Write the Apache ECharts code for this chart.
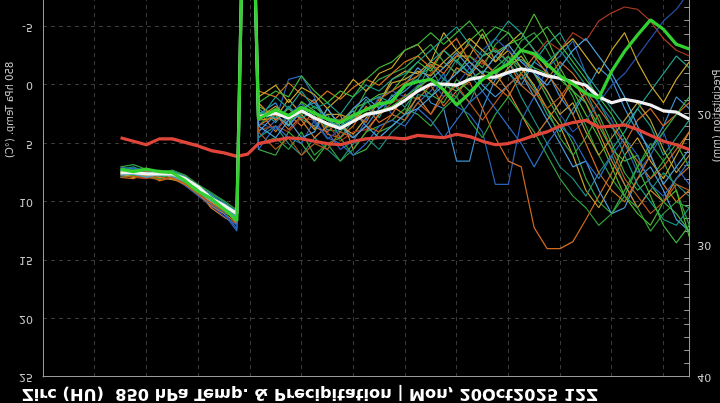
<!DOCTYPE html>
<html><head><meta charset="utf-8">
<script src="https://cdn.jsdelivr.net/npm/echarts@6/dist/echarts.min.js"></script>
<style>
html,body{margin:0;padding:0;background:#000;overflow:hidden;width:720px;height:403px;}
#wrap{position:absolute;left:0;top:0;width:720px;height:403px;overflow:hidden;transform:scaleY(-1);transform-origin:50% 50%;}
#chart{position:absolute;left:0;top:0;width:720px;height:440px;}
</style></head><body><div id="wrap"><div id="chart"></div></div>
<script>
const titleText = 'Zirc (HU)  850 hPa Temp. & Precipitation | Mon, 20Oct2025 12Z';
const tempName = '850 hPa Temp. (°C)';
const precName = 'Precipitation (mm)';
const hours = [36,42,48,54,60,66,72,78,84,90,95,100,108,114,120,126,132,138,144,150,156,162,168,174,180,186,192,198,204,210,216,222,228,234,240,246,252,258,264,270,276,282,288,294,300];

const redLine = [4.5,4.8,5.1,4.6,4.6,4.9,5.2,5.6,5.8,6.1,5.9,
  5.0,4.7,4.5,4.6,4.8,5.0,5.1,4.8,4.6,4.5,4.5,4.6,
  4.3,4.4,4.5,4.2,4.4,4.8,5.1,5.0,4.7,4.3,4.0,3.5,3.2,3.0,3.6,3.5,3.4,3.8,4.3,4.8,5.1,5.5];
const whiteLine = [7.5,7.5,7.6,7.6,7.6,8.0,8.7,9.7,10.3,11.0,-34,
  2.7,2.4,2.8,2.2,2.8,3.3,3.7,3.1,2.5,2.3,2.0,1.3,
  0.5,-0.1,-0.1,0.0,-0.5,-0.7,-0.7,-1.1,-1.4,-1.2,-0.8,-0.6,-0.3,0.0,1.0,1.5,1.2,1.4,1.7,2.2,2.3,2.9];
const greenLine = [7.2,7.4,7.2,7.4,7.5,8.2,9.1,9.7,10.6,11.6,-35,
  2.9,2.1,2.6,1.9,2.4,2.9,3.2,2.6,2.1,1.6,1.4,0.0,
  -0.3,-0.5,0.4,1.7,0.7,-0.5,-1.2,-1.8,-3.0,-2.7,-1.8,-0.8,-0.1,0.7,1.1,-1.2,-2.9,-4.3,-5.6,-4.8,-3.5,-3.1];

const m1 = [7.3,7.6,7.4,7.8,7.7,8.2,9.0,10.0,10.6,11.4,-36,
  3.5,2.0,3.0,1.5,2.6,3.8,4.0,2.7,2.0,1.8,1.5,0.2,
  -0.8,-1.5,0.5,1.0,-1.0,-2.5,-3.0,-2.0,-3.8,-4.5,-3.0,-1.0,1.0,3.5,6.0,8.0,9.5,7.0,5.0,6.5,9.0,12.0];
const m2 = [7.8,7.4,7.7,7.5,7.9,8.4,9.2,9.5,10.2,10.9,-34,
  2.0,3.2,1.8,2.9,3.5,2.5,4.5,3.0,1.2,2.8,0.8,1.9,
  0.3,-1.8,-0.5,-2.2,-1.0,0.5,-0.8,-2.4,-1.5,0.2,2.5,4.0,2.0,0.5,3.0,5.5,4.0,2.0,3.5,6.0,4.5,3.0];
const m3 = [7.0,7.2,7.6,7.4,7.8,8.5,9.4,10.4,11.0,12.5,-33,
  4.5,3.0,-0.5,-0.8,1.0,4.0,5.5,4.8,3.0,1.0,2.5,3.0,
  1.5,0.5,-1.0,1.8,2.5,4.0,8.5,8.5,3.0,1.0,-1.5,-2.5,-3.8,-1.0,1.5,3.0,5.0,7.5,6.0,4.0,7.0,8.5];
const m4 = [7.6,7.3,7.9,7.7,7.5,7.9,8.8,9.6,10.1,10.8,-35,
  2.5,1.5,3.5,2.0,1.5,3.0,3.0,2.2,3.5,2.0,1.2,0.5,
  -0.5,1.5,2.0,6.5,6.5,2.0,-0.5,-1.0,0.0,-2.0,-1.2,1.0,2.5,0.5,-1.5,-0.5,2.0,4.0,5.5,3.5,1.0,2.0];
const m5 = [7.9,8.0,7.5,8.2,7.9,8.6,9.4,10.2,10.8,11.5,-32,
  2.2,4.0,2.5,3.5,2.2,4.2,4.5,3.5,1.8,3.2,2.5,0.8,
  1.2,0.0,1.8,0.5,-0.3,2.0,4.5,6.5,7.0,12.2,14.0,14.0,13.4,11.5,9.5,7.5,5.0,3.0,2.0,3.5,2.5,1.5];
const m6 = [7.4,7.7,7.3,7.9,8.1,8.3,9.0,9.8,10.4,11.2,-34,
  3.0,2.8,1.2,2.5,3.8,2.0,3.5,4.2,2.8,1.5,-0.5,-1.2,
  -1.0,-2.0,-1.5,-2.5,-2.5,-4.4,-2.0,-3.0,-1.5,0.0,2.0,3.5,6.0,9.0,10.5,8.5,6.0,4.5,6.5,8.0,6.0,4.0];
const m7 = [7.7,7.9,8.0,7.6,8.0,8.4,9.2,10.1,10.7,11.3,-31,
  3.8,3.5,4.0,2.8,3.0,3.3,4.8,4.0,3.8,2.5,1.5,1.0,
  0.5,-1.0,-2.0,-1.0,-2.5,-1.8,-3.2,-2.0,-3.0,-2.5,-3.8,-3.0,-4.5,-3.8,-5.5,-6.2,-6.7,-6.5,-5.5,-4.0,-3.0,-2.5];
const m8 = [7.5,7.5,7.7,7.6,7.7,8.1,8.9,9.8,10.5,11.8,-36,
  1.8,2.6,3.4,1.4,2.2,3.6,3.2,2.0,1.5,0.8,0.5,-0.8,
  -2.0,-1.2,-3.0,-2.0,-3.8,-4.8,-2.8,-3.5,-4.0,-6.1,-4.0,-1.5,0.5,2.5,4.5,7.0,9.5,11.0,12.0,10.0,9.0,13.0];
const m9 = [7.2,7.0,7.5,7.3,7.4,8.0,8.6,9.3,10.0,10.9,-34,
  4.5,3.5,5.0,6.0,4.5,5.5,6.5,5.0,4.5,5.5,4.0,3.0,
  0.8,1.0,-0.5,0.2,1.5,-1.0,-2.5,-1.5,1.0,3.0,5.0,7.0,8.0,9.5,7.5,6.0,8.5,10.5,9.0,7.5,8.5,9.5];
const m10 = [7.6,7.8,7.9,7.4,7.6,8.1,9.1,10.5,11.3,11.9,-33,
  1.5,3.0,2.0,3.0,4.5,3.5,2.5,5.5,4.0,2.5,1.8,2.5,
  1.0,2.5,0.5,-1.5,-0.8,-2.2,-1.0,0.5,2.5,4.5,3.0,1.5,-0.5,1.5,4.0,6.5,8.5,10.5,9.0,10.0,8.0,7.0];
const m11 = [7.3,7.4,7.6,7.8,7.8,8.3,8.9,9.9,10.4,11.1,-35,
  2.5,2.2,3.0,2.5,1.8,2.8,3.0,2.5,0.5,-0.5,-1.0,-1.5,
  -2.5,-3.5,-2.0,-1.0,-2.5,-1.5,-3.5,-4.5,-3.0,-1.0,1.0,3.0,5.0,8.0,10.0,11.0,9.0,7.0,5.5,4.0,2.5,1.0];
const m12 = [7.8,7.6,7.4,7.7,7.9,8.6,9.5,10.3,11.2,12.0,-32,
  3.2,3.8,2.5,1.6,3.2,4.6,3.8,2.8,3.0,1.0,0.5,1.0,
  0.0,-0.5,1.0,0.0,-1.5,-3.0,-4.0,-3.0,-2.0,-1.5,0.5,2.5,4.0,3.0,1.5,0.0,-1.0,-2.5,-4.0,-5.5,-6.5,-8.0];
const m13 = [7.5,7.3,7.8,7.5,7.7,8.0,8.8,9.6,10.3,10.9,-34,
  2.8,1.8,2.8,2.0,3.0,2.5,2.5,3.0,2.0,1.5,-0.2,-0.5,
  -1.2,-0.8,-2.0,-3.0,-2.0,-1.0,0.0,-1.5,-2.5,-1.0,0.5,2.5,1.5,4.0,6.0,4.5,3.0,1.5,3.0,5.5,7.5,6.0];
const m14 = [7.1,7.5,7.2,7.6,7.3,7.8,8.7,9.4,10.2,11.6,-35,
  4.0,2.5,3.5,2.2,1.2,3.0,3.6,2.0,1.0,2.0,1.0,0.0,
  -1.5,-0.5,-1.5,-2.8,-1.5,0.0,1.0,0.0,-1.0,1.0,3.0,5.0,7.0,6.5,9.0,11.0,10.5,8.0,7.0,9.0,11.5,12.5];
const m15 = [7.9,7.7,7.8,8.0,7.6,8.2,9.3,10.0,10.9,11.4,-33,
  5.5,6.0,4.0,5.0,6.5,5.0,4.5,6.0,5.5,4.0,3.5,2.5,
  0.0,0.8,1.5,-0.5,0.5,-0.5,-1.5,-2.5,-1.0,0.5,2.0,4.5,6.0,4.5,2.5,5.0,7.5,9.0,8.0,6.5,5.0,7.0];
const m16 = [7.4,7.6,7.4,7.3,7.8,8.4,9.0,9.9,10.6,11.2,-34,
  3.5,2.5,3.8,2.6,3.6,4.0,3.0,2.5,3.2,1.2,0.5,-0.2,
  -0.8,-1.8,-1.0,-2.5,-3.5,-2.0,-1.0,-2.0,0.0,1.0,-0.5,-2.0,-1.0,0.5,2.0,3.5,5.0,6.5,8.0,7.0,5.5,4.0];
const m17 = [7.6,7.3,7.5,7.8,7.6,8.1,9.0,9.7,10.5,11.3,-35,
  2.3,2.8,2.0,2.8,2.2,3.0,3.5,2.8,1.5,1.0,1.5,0.0,
  -0.5,-2.0,-3.0,-2.0,-1.0,-2.5,-3.0,-2.0,-0.5,-2.0,-3.5,-4.5,-2.5,-1.0,0.5,2.0,3.5,2.0,0.5,-1.0,-2.5,-1.5];
const m18 = [7.5,7.4,7.6,7.7,7.7,8.2,8.8,9.8,10.4,11.1,-36,
  2.6,2.4,2.9,2.3,2.7,3.2,3.6,3.0,2.4,2.2,1.8,1.0,
  0.2,-0.6,0.0,0.5,-0.5,-1.2,-1.0,-1.8,-2.2,-1.5,-1.0,-0.5,0.5,1.5,3.5,5.5,6.5,6.0,8.5,10.0,11.0,12.5];
const m19 = [7.7,7.5,7.8,7.9,8.0,8.5,9.3,10.3,11.0,11.8,-33,
  0.5,1.0,-0.2,0.8,1.5,0.5,1.2,0.2,-0.5,0.0,-1.0,-2.0,
  -2.5,-1.5,-3.0,-4.0,-2.0,-1.0,0.0,1.0,-1.0,-2.5,-1.0,0.5,2.5,5.0,7.5,9.0,10.0,8.0,6.0,8.5,10.0,9.0];
const m20 = [7.0,6.8,7.2,7.4,7.3,7.7,8.5,9.2,9.9,10.7,-35,
  5.0,4.5,5.5,4.0,6.0,5.0,6.5,5.5,4.0,3.5,3.0,2.0,
  2.5,3.5,2.0,1.0,3.0,4.5,2.5,1.0,2.5,4.0,6.0,8.0,9.5,10.5,12.0,11.0,9.5,10.5,12.5,11.0,10.0,10.5];
const m21 = [7.6,7.9,7.6,7.5,7.9,8.3,9.1,10.0,10.7,11.5,-34,
  1.0,0.0,1.5,0.2,0.8,2.0,1.0,-0.5,0.5,-1.0,-1.5,-3.0,
  -3.5,-2.0,-4.5,-3.0,-4.0,-3.0,-2.0,-3.5,-4.5,-3.0,-1.5,-3.0,-4.0,-2.5,-1.0,-3.0,-4.5,-2.0,0.0,1.5,-0.5,-2.0];
const m22 = [7.3,7.1,7.3,7.5,7.6,8.2,9.2,10.2,10.9,12.3,-33,
  5.5,3.5,4.5,5.0,3.0,4.5,5.0,6.0,5.0,3.5,3.0,3.5,
  2.0,3.0,4.5,3.0,1.5,0.5,2.0,3.5,5.0,7.0,5.0,3.5,4.5,6.5,8.0,6.0,4.5,6.0,8.5,9.5,8.0,6.5];
const m23 = [7.4,7.6,7.5,7.6,7.4,7.9,8.6,9.5,10.2,11.0,-34,
  3.0,1.0,2.0,0.5,2.0,1.5,2.5,1.0,0.0,0.5,-0.5,-1.0,
  -2.0,-3.0,-4.0,-5.0,-3.5,-2.5,-4.0,-5.5,-4.5,-3.0,-2.0,-3.0,-1.5,0.0,1.5,3.5,6.0,8.5,10.0,11.5,12.0,10.5];
const m24 = [7.9,7.8,7.9,8.1,7.9,8.4,9.3,10.1,10.8,11.6,-32,
  4.0,5.5,4.5,6.0,5.0,5.5,4.0,4.5,3.5,4.0,2.5,3.0,
  1.5,2.5,1.0,0.0,1.5,3.0,1.5,0.0,-1.0,0.5,2.0,1.0,-0.5,1.0,3.0,5.5,8.0,9.5,11.0,10.0,8.5,9.0];
const m25 = [7.2,7.3,7.1,7.5,7.5,8.0,8.7,9.6,10.3,11.2,-35,
  1.5,0.5,1.0,-0.8,0.5,1.5,0.5,1.0,-0.5,-1.5,-2.0,-3.0,
  -3.5,-4.5,-3.5,-4.5,-5.5,-4.0,-5.0,-4.5,-3.0,-4.0,-5.0,-3.5,-2.0,-0.5,1.0,2.5,4.5,7.0,9.5,12.0,13.5,12.0];
const m26 = [7.7,7.6,7.9,7.6,7.8,8.3,9.1,9.9,10.6,11.3,-34,
  3.5,4.5,3.0,4.5,4.0,2.0,3.5,4.5,3.5,4.5,3.5,2.5,
  2.0,1.0,0.0,-1.0,-2.0,-1.0,-2.5,-3.5,-2.0,-1.0,0.0,-1.5,-3.0,-4.0,-2.5,-1.0,1.0,3.5,6.0,8.5,7.0,5.5];

const members = [m1,m2,m3,m4,m5,m6,m7,m8,m9,m10,m11,m12,m13,m14,m15,m16,m17,m18,m19,m20,m21,m22,m23,m24,m25,m26];
const memberColors = ['#2e9e3e','#1f9a8c','#2a62b8','#3a90d0','#d06a20','#c9a227','#a83a20','#4fb82e','#1b8f80','#d98030','#36a845','#2850a8','#b8a030','#4a9ad8','#3aa840','#c96a28','#20a090','#44b844','#d2731f','#2fa23a','#c8a62a','#2b6cc4','#169a88','#b85a1a','#3cb43c','#4aa0d8'];

const pair = arr => hours.map((h,i)=>[h, arr[i]]);

const series = members.map((m,i)=>({
  type:'line', data: pair(m), showSymbol:false, symbol:'none', silent:true,
  lineStyle:{width:1.2, color:memberColors[i], opacity:1}, z:2
}));
series.push({type:'line', data:pair(redLine), symbol:'none', lineStyle:{width:3.2, color:'#e0453a'}, z:3});
series.push({type:'line', data:pair(whiteLine), symbol:'none', lineStyle:{width:3.2, color:'#f2f2f2'}, z:4});
series.push({type:'line', data:pair(greenLine), symbol:'none', lineStyle:{width:3.2, color:'#33d12f'}, z:5});

const chart = echarts.init(document.getElementById('chart'), null, {renderer:'canvas'});
chart.setOption({
  backgroundColor:'#000',
  animation:false,
  grid:{left:43, top:26, width:646.25, height:410.7, containLabel:false},
  xAxis:{type:'value', min:0, max:300, interval:24, position:'top',
    axisLine:{show:true, onZero:false, lineStyle:{color:'#9a9a9a', width:1}},
    axisTick:{show:false}, axisLabel:{show:false},
    splitLine:{show:true, lineStyle:{color:'#3a3a3a', type:[4,4], width:1}}},
  yAxis:[
    {type:'value', min:-10, max:25, interval:5, position:'left',
     axisLine:{show:true, onZero:false, lineStyle:{color:'#9a9a9a'}}, axisTick:{show:false},
     axisLabel:{color:'#c8c8c8', fontSize:11, fontFamily:'DejaVu Sans', margin:10},
     splitLine:{show:true, lineStyle:{color:'#3a3a3a', type:[4,4], width:1}}},
    {type:'value', min:9, max:40, interval:1, position:'right',
     axisLine:{show:true, onZero:false, lineStyle:{color:'#9a9a9a'}},
     axisTick:{show:true, inside:true, length:5, lineStyle:{color:'#9a9a9a'}},
     axisLabel:{color:'#c8c8c8', fontSize:11, fontFamily:'DejaVu Sans', margin:8,
       formatter: v => (Math.round(v)%10===0 ? String(Math.round(v)) : '')},
     splitLine:{show:false}}
  ],
  graphic:[
    {type:'text', x:22, y:10, style:{text:titleText, fill:'#ffffff', font:'bold 16.2px "DejaVu Sans"', textVerticalAlign:'middle', textAlign:'left'}},
    {type:'text', x:10, y:293, rotation:Math.PI/2, style:{text:tempName, fill:'#c8c8c8', font:'10px "DejaVu Sans"', textAlign:'center', textVerticalAlign:'middle'}},
    {type:'text', x:717, y:287, rotation:Math.PI/2, style:{text:precName, fill:'#c8c8c8', font:'10px "DejaVu Sans"', textAlign:'center', textVerticalAlign:'middle'}}
  ],
  series: series
});
</script>
</body></html>
